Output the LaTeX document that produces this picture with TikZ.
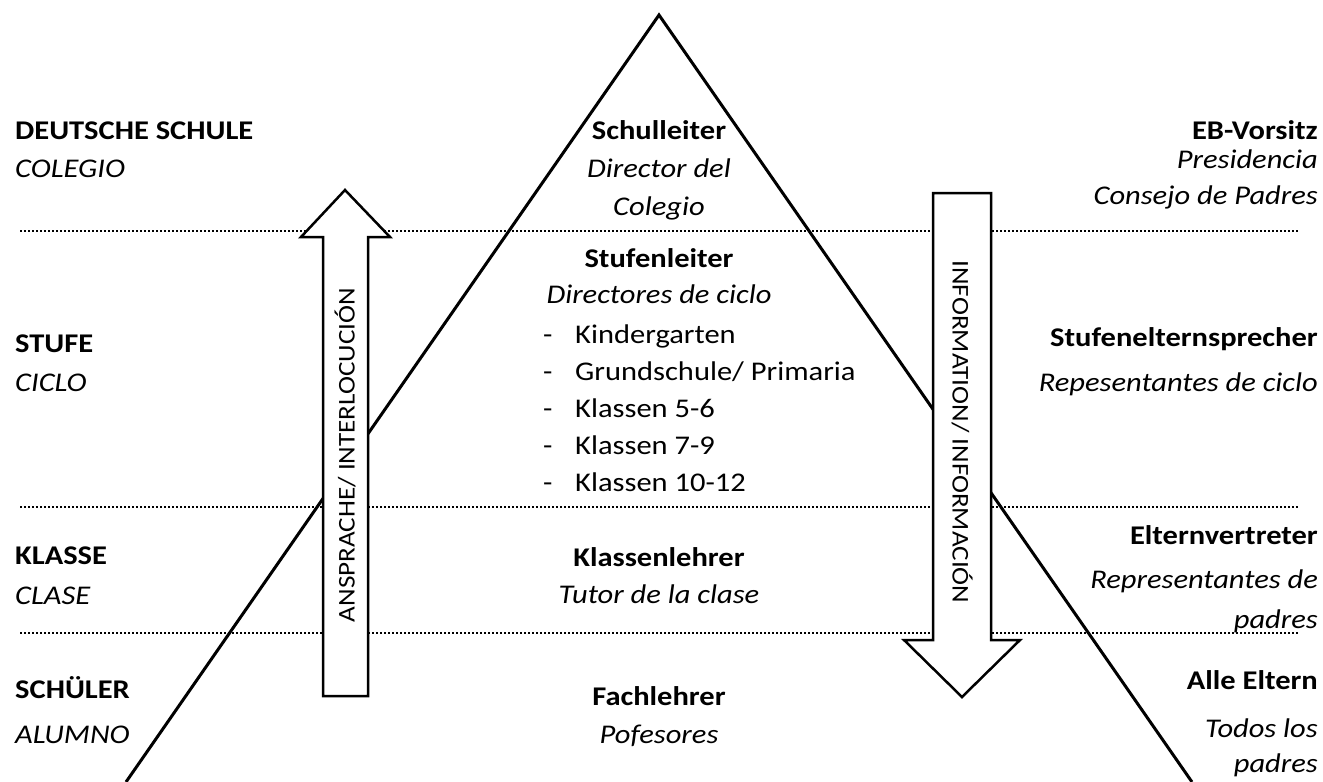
\documentclass[tikz,border=0pt]{standalone}
\usepackage{fontspec}
\setmainfont{Carlito}[FakeStretch=1.13]

\tikzset{
  hd/.style={font=\fontsize{27}{32}\selectfont\bfseries, inner sep=0pt},
  sub/.style={font=\fontsize{27}{32}\selectfont\itshape, inner sep=0pt},
  item/.style={font=\fontsize{27}{32}\selectfont, inner sep=0pt, anchor=base west},
  level/.style={line width=2pt, dash pattern=on 2pt off 2pt},
  blockarrow/.style={draw, line width=2.5pt, fill=white, line join=miter},
  arrowtext/.style={font=\fontsize{24}{28}\selectfont, inner sep=0pt}
}

\begin{document}
\begin{tikzpicture}[x=1pt, y=-1pt]
    \useasboundingbox (0,0) rectangle (1323,782);

    % Level lines
    \foreach \y in {231,507,633}
        \draw[level] (20,\y) -- (1298,\y);

    % Pyramid
    \draw[line width=3pt, line join=miter] (126,782) -- (659,15) -- (1192,782);

    % Up arrow
    \draw[blockarrow] (323,696) -- (323,237) -- (301,237) -- (345,190)
        -- (390,237) -- (368,237) -- (368,696) -- cycle;
    \node[arrowtext, rotate=90] (ask) at (345,455) {ANSPRACHE/ INTERLOCUCIÓN};

    % Down arrow
    \draw[blockarrow] (933,193) -- (991,193) -- (991,640) -- (1020,640)
        -- (962,697) -- (904,640) -- (933,640) -- cycle;
    \node[arrowtext, rotate=-90] (info) at (962,432) {INFORMATION/ INFORMACIÓN};

    % Left column
    \node[hd, anchor=base west] (school) at (15,139) {DEUTSCHE SCHULE};
    \node[sub, anchor=base west] (colegio) at (15,177) {COLEGIO};
    \node[hd, anchor=base west] (stufe) at (15,352) {STUFE};
    \node[sub, anchor=base west] (ciclo) at (15,391) {CICLO};
    \node[hd, anchor=base west] (klasse) at (15,564) {KLASSE};
    \node[sub, anchor=base west] (clase) at (15,604) {CLASE};
    \node[hd, anchor=base west] (schueler) at (15,698) {SCHÜLER};
    \node[sub, anchor=base west] (alumno) at (15,743) {ALUMNO};

    % Middle column
    \node[hd, anchor=base] (head) at (659,139) {Schulleiter};
    \node[sub, anchor=base] (head1) at (659,177) {Director del};
    \node[sub, anchor=base] (head2) at (659,215) {Colegio};
    \node[hd, anchor=base] (lead) at (659,267) {Stufenleiter};
    \node[sub, anchor=base] (lead1) at (659,303) {Directores de ciclo};
    \foreach \t [count=\i] in {Kindergarten, Grundschule/ Primaria, Klassen 5-6, Klassen 7-9, Klassen 10-12} {
        \node[item] (dash\i) at (543,306+37*\i) {-};
        \node[item] (grade\i) at (575,306+37*\i) {\t};
    }
    \node[hd, anchor=base] (tutor) at (659,566) {Klassenlehrer};
    \node[sub, anchor=base] (tutor1) at (659,603) {Tutor de la clase};
    \node[hd, anchor=base] (teach) at (659,705) {Fachlehrer};
    \node[sub, anchor=base] (teach1) at (659,743) {Pofesores};

    % Right column
    \node[hd, anchor=base east] (board) at (1318,139) {EB-Vorsitz};
    \node[sub, anchor=base east] (board1) at (1318,168) {Presidencia};
    \node[sub, anchor=base east] (board2) at (1318,204) {Consejo de Padres};
    \node[hd, anchor=base east] (speak) at (1318,346) {Stufenelternsprecher};
    \node[sub, anchor=base east] (speak1) at (1318,391) {Repesentantes de ciclo};
    \node[hd, anchor=base east] (rep) at (1318,544) {Elternvertreter};
    \node[sub, anchor=base east] (rep1) at (1318,588) {Representantes de};
    \node[sub, anchor=base east] (rep2) at (1318,628) {padres};
    \node[hd, anchor=base east] (all) at (1318,689) {Alle Eltern};
    \node[sub, anchor=base east] (all1) at (1318,737) {Todos los};
    \node[sub, anchor=base east] (all2) at (1318,772) {padres};
\end{tikzpicture}
\end{document}
